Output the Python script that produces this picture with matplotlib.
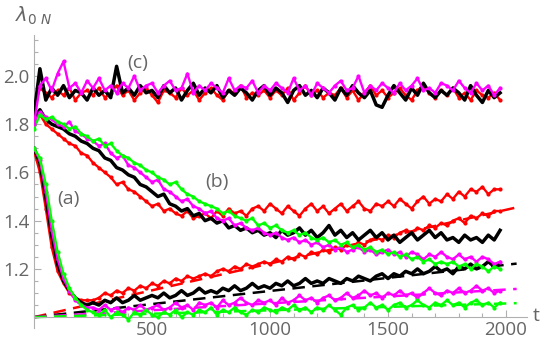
import numpy as np
import matplotlib
matplotlib.use("Agg")
import matplotlib.pyplot as plt
from matplotlib.ticker import MultipleLocator

plt.rcParams['font.family'] = ['Open Sans', 'DejaVu Sans']

# sampling times (every 25 steps)
t = np.arange(0, 2000, 25)

# group (c)
c_black = [1.84, 2.03, 1.90, 1.95, 1.92, 1.96, 1.91, 1.94, 1.93, 1.90,
           1.95, 1.92, 1.94, 1.91, 2.04, 1.93, 1.95, 1.92, 1.96, 1.93,
           1.94, 1.91, 1.96, 1.93, 1.95, 1.90, 1.94, 1.97, 1.92, 1.95,
           1.93, 1.96, 1.91, 1.94, 1.92, 1.95, 1.93, 1.90, 1.94, 1.96,
           1.92, 1.95, 1.93, 1.89, 1.94, 1.96, 1.92, 1.94, 1.91, 1.95,
           1.93, 1.90, 1.95, 1.92, 1.96, 1.93, 1.91, 1.94, 1.88, 1.87,
           1.92, 1.96, 1.93, 1.90, 1.95, 1.92, 1.97, 1.93, 1.91, 1.94,
           1.92, 1.95, 1.93, 1.90, 1.96, 1.92, 1.89, 1.94, 1.91, 1.93]
c_red = [1.86, 1.95, 1.93, 1.91, 1.94, 1.92, 1.95, 1.90, 1.93, 1.94,
         1.92, 1.95, 1.91, 1.93, 1.96, 1.92, 1.94, 1.90, 1.93, 1.95,
         1.92, 1.89, 1.94, 1.93, 1.91, 1.95, 1.92, 1.94, 1.90, 1.93,
         1.95, 1.92, 1.90, 1.94, 1.93, 1.96, 1.91, 1.93, 1.92, 1.94,
         1.91, 1.94, 1.92, 1.95, 1.90, 1.93, 1.96, 1.92, 1.94, 1.91,
         1.93, 1.92, 1.95, 1.91, 1.94, 1.90, 1.93, 1.96, 1.92, 1.94,
         1.91, 1.93, 1.95, 1.92, 1.90, 1.94, 1.96, 1.93, 1.91, 1.94,
         1.92, 1.95, 1.91, 1.93, 1.90, 1.94, 1.92, 1.91, 1.93, 1.90]
c_magenta = [1.80, 1.96, 1.99, 1.94, 2.01, 2.06, 1.95, 1.97, 1.93, 1.98,
             1.95, 1.99, 1.94, 1.96, 1.93, 1.97, 1.95, 2.00, 1.94, 1.96,
             1.97, 1.93, 1.96, 1.98, 1.94, 1.95, 2.01, 1.93, 1.96, 1.94,
             1.97, 1.95, 1.93, 1.99, 1.94, 1.96, 1.95, 1.98, 1.93, 1.96,
             1.94, 1.97, 1.95, 1.93, 1.99, 1.94, 1.96, 1.92, 1.97, 1.95,
             1.93, 1.96, 1.98, 1.94, 1.95, 2.00, 1.93, 1.96, 1.94, 1.97,
             1.95, 1.93, 1.97, 1.94, 1.96, 1.99, 1.94, 1.95, 1.93, 1.97,
             1.96, 1.94, 1.98, 1.95, 1.93, 1.97, 1.94, 1.96, 1.92, 1.95]

# group (b)
b_black = [1.83, 1.86, 1.82, 1.80, 1.79, 1.78, 1.76, 1.75, 1.73, 1.72,
           1.70, 1.69, 1.66, 1.65, 1.62, 1.61, 1.59, 1.58, 1.55, 1.54,
           1.52, 1.50, 1.51, 1.47, 1.46, 1.44, 1.45, 1.42, 1.43, 1.40,
           1.41, 1.39, 1.40, 1.37, 1.38, 1.36, 1.37, 1.35, 1.36, 1.34,
           1.35, 1.33, 1.36, 1.34, 1.35, 1.37, 1.34, 1.36, 1.33, 1.35,
           1.38, 1.34, 1.36, 1.33, 1.35, 1.32, 1.34, 1.36, 1.33, 1.35,
           1.32, 1.34, 1.31, 1.33, 1.35, 1.32, 1.34, 1.36, 1.33, 1.35,
           1.32, 1.33, 1.31, 1.34, 1.32, 1.33, 1.31, 1.34, 1.32, 1.36]
b_red = [1.82, 1.84, 1.80, 1.78, 1.76, 1.74, 1.72, 1.71, 1.68, 1.67,
         1.64, 1.62, 1.60, 1.58, 1.55, 1.56, 1.53, 1.52, 1.50, 1.48,
         1.46, 1.47, 1.44, 1.45, 1.43, 1.42, 1.44, 1.41, 1.42, 1.43,
         1.41, 1.44, 1.42, 1.45, 1.43, 1.44, 1.42, 1.45, 1.46, 1.44,
         1.47, 1.45, 1.43, 1.46, 1.44, 1.42, 1.45, 1.47, 1.44, 1.46,
         1.43, 1.45, 1.47, 1.44, 1.46, 1.48, 1.45, 1.44, 1.47, 1.46,
         1.48, 1.46, 1.49, 1.47, 1.45, 1.48, 1.50, 1.47, 1.49, 1.48,
         1.51, 1.49, 1.52, 1.50, 1.53, 1.52, 1.54, 1.51, 1.53, 1.53]
b_magenta = [1.80, 1.85, 1.83, 1.82, 1.80, 1.79, 1.81, 1.77, 1.76, 1.74,
             1.73, 1.71, 1.72, 1.68, 1.66, 1.67, 1.63, 1.62, 1.60, 1.58,
             1.56, 1.57, 1.53, 1.52, 1.50, 1.48, 1.49, 1.46, 1.45, 1.43,
             1.44, 1.41, 1.40, 1.41, 1.38, 1.39, 1.37, 1.36, 1.37, 1.35,
             1.34, 1.35, 1.33, 1.32, 1.33, 1.31, 1.32, 1.30, 1.31, 1.29,
             1.30, 1.28, 1.29, 1.27, 1.28, 1.29, 1.27, 1.28, 1.26, 1.27,
             1.28, 1.26, 1.27, 1.25, 1.27, 1.26, 1.24, 1.26, 1.25, 1.27,
             1.25, 1.24, 1.26, 1.24, 1.25, 1.23, 1.25, 1.24, 1.22, 1.23]
b_green = [1.78, 1.84, 1.82, 1.83, 1.81, 1.80, 1.78, 1.79, 1.76, 1.75,
           1.73, 1.74, 1.71, 1.72, 1.69, 1.67, 1.66, 1.64, 1.63, 1.61,
           1.60, 1.58, 1.57, 1.55, 1.56, 1.53, 1.51, 1.50, 1.48, 1.47,
           1.46, 1.45, 1.43, 1.44, 1.42, 1.41, 1.40, 1.41, 1.38, 1.39,
           1.37, 1.38, 1.36, 1.35, 1.36, 1.34, 1.35, 1.33, 1.32, 1.33,
           1.31, 1.32, 1.30, 1.31, 1.29, 1.30, 1.28, 1.29, 1.27, 1.28,
           1.26, 1.27, 1.25, 1.26, 1.24, 1.25, 1.23, 1.24, 1.22, 1.23,
           1.22, 1.23, 1.21, 1.22, 1.20, 1.22, 1.21, 1.19, 1.21, 1.20]

# group (a)
a_red = [1.69, 1.60, 1.45, 1.29, 1.19, 1.14, 1.10, 1.08, 1.07, 1.07,
         1.07, 1.08, 1.10, 1.09, 1.11, 1.10, 1.12, 1.11, 1.13, 1.12,
         1.14, 1.13, 1.15, 1.14, 1.16, 1.15, 1.17, 1.16, 1.17, 1.18,
         1.17, 1.19, 1.20, 1.19, 1.21, 1.20, 1.22, 1.21, 1.22, 1.23,
         1.22, 1.24, 1.23, 1.25, 1.24, 1.26, 1.25, 1.27, 1.26, 1.28,
         1.27, 1.29, 1.28, 1.30, 1.29, 1.31, 1.30, 1.32, 1.33, 1.32,
         1.34, 1.33, 1.35, 1.36, 1.35, 1.37, 1.36, 1.38, 1.37, 1.39,
         1.38, 1.40, 1.41, 1.39, 1.42, 1.41, 1.43, 1.42, 1.44, 1.44]
a_black = [1.70, 1.64, 1.50, 1.34, 1.22, 1.15, 1.11, 1.08, 1.06, 1.05,
           1.06, 1.05, 1.07, 1.06, 1.08, 1.06, 1.07, 1.09, 1.07, 1.08,
           1.09, 1.08, 1.10, 1.08, 1.09, 1.11, 1.09, 1.10, 1.12, 1.10,
           1.11, 1.10, 1.12, 1.11, 1.13, 1.11, 1.12, 1.14, 1.12, 1.13,
           1.12, 1.14, 1.13, 1.15, 1.13, 1.14, 1.16, 1.14, 1.15, 1.14,
           1.16, 1.15, 1.14, 1.16, 1.15, 1.17, 1.16, 1.15, 1.17, 1.18,
           1.16, 1.18, 1.17, 1.19, 1.18, 1.20, 1.18, 1.19, 1.21, 1.19,
           1.20, 1.18, 1.21, 1.20, 1.22, 1.20, 1.21, 1.23, 1.21, 1.22]
a_magenta = [1.70, 1.65, 1.52, 1.36, 1.24, 1.16, 1.11, 1.07, 1.05, 1.04,
             1.04, 1.03, 1.05, 1.03, 1.04, 1.02, 1.04, 1.03, 1.05, 1.03,
             1.04, 1.05, 1.03, 1.04, 1.06, 1.04, 1.05, 1.03, 1.06, 1.05,
             1.06, 1.04, 1.07, 1.05, 1.06, 1.08, 1.06, 1.05, 1.07, 1.06,
             1.07, 1.05, 1.08, 1.06, 1.07, 1.09, 1.07, 1.08, 1.06, 1.08,
             1.09, 1.07, 1.08, 1.10, 1.08, 1.09, 1.11, 1.09, 1.10, 1.08,
             1.10, 1.09, 1.11, 1.09, 1.10, 1.08, 1.10, 1.12, 1.10, 1.09,
             1.11, 1.10, 1.12, 1.10, 1.11, 1.13, 1.11, 1.12, 1.10, 1.11]
a_green = [1.70, 1.66, 1.55, 1.40, 1.27, 1.18, 1.12, 1.08, 1.05, 1.03,
           1.02, 1.01, 1.03, 1.00, 1.02, 1.01, 0.99, 1.02, 1.01, 1.03,
           1.01, 1.00, 1.02, 1.01, 1.03, 1.00, 1.02, 1.01, 1.03, 1.02,
           1.04, 1.01, 1.03, 1.02, 1.04, 1.02, 1.01, 1.03, 1.02, 1.04,
           1.03, 1.02, 1.04, 1.03, 1.05, 1.03, 1.04, 1.02, 1.04, 1.03,
           1.05, 1.03, 1.01, 1.04, 1.05, 1.03, 1.04, 1.06, 1.04, 1.05,
           1.03, 1.05, 1.06, 1.04, 1.05, 1.07, 1.05, 1.04, 1.06, 1.05,
           1.07, 1.05, 1.06, 1.04, 1.06, 1.07, 1.05, 1.06, 1.04, 1.06]

# linear fits (dashed), from t=0 to t_fit_end
t_fit = [0, 2045]
fit_red = [1.0, 1.455]
fit_black = [1.0, 1.222]
fit_magenta = [1.0, 1.117]
fit_green = [1.0, 1.058]

RED, MAG, GRN = '#ff0000', '#ff00ff', '#00ff00'

fig = plt.figure(figsize=(5.45, 3.46), dpi=100)
ax = fig.add_axes([0.0624, 0.052, 0.905, 0.847])

for yy, col in [(fit_red, RED), (fit_black, 'black'), (fit_magenta, MAG), (fit_green, GRN)]:
    ax.plot(t_fit, yy, color=col, lw=1.8, dashes=(5, 3), zorder=2)

def dotted(y, col, z):
    ax.plot(t, y, color=col, lw=1.7, marker='o', ms=3, mew=0, zorder=z)

def solid(y, z):
    ax.plot(t, y, color='black', lw=2.5, zorder=z)

# (a)
dotted(a_red, RED, 3)
solid(a_black, 4)
dotted(a_magenta, MAG, 5)
dotted(a_green, GRN, 5)
# (b)
dotted(b_red, RED, 3)
solid(b_black, 4)
dotted(b_magenta, MAG, 5)
dotted(b_green, GRN, 5)
# (c)
dotted(c_red, RED, 3)
solid(c_black, 4)
dotted(c_magenta, MAG, 5)

ax.set_xlim(0, 2090)
ax.set_ylim(0.955, 2.17)

for s in ['top', 'right']:
    ax.spines[s].set_visible(False)
ax.spines['bottom'].set_position(('data', 1.0))
ax.spines['left'].set_position(('data', 0))
for s in ['bottom', 'left']:
    ax.spines[s].set_color('#b0b0b0')
    ax.spines[s].set_linewidth(0.8)

ax.set_xticks([500, 1000, 1500, 2000])
ax.set_yticks([1.2, 1.4, 1.6, 1.8, 2.0])
ax.set_yticklabels(['1.2', '1.4', '1.6', '1.8', '2.0'])
ax.xaxis.set_minor_locator(MultipleLocator(100))
ax.yaxis.set_minor_locator(MultipleLocator(0.05))
ax.tick_params(which='both', direction='in', color='#b0b0b0', labelcolor='#666666',
               labelsize=13.5, width=0.8)
ax.tick_params(which='major', length=5)
ax.tick_params(which='minor', length=3)
ax.tick_params(axis='x', pad=3)
ax.tick_params(axis='y', pad=3)

txt = dict(color='#666666', fontsize=14, ha='center', va='center')
ax.text(440, 2.055, '(c)', **txt)
ax.text(774, 1.56, '(b)', **txt)
ax.text(144, 1.49, '(a)', **txt)

fig.text(0.99, 1 - 316 / 346, 't', color='#666666', fontsize=14, ha='right', va='center')
fig.text(0.062, 1 - 16 / 346, r'$\lambda_{0\ N}$', color='#666666', fontsize=14,
         ha='center', va='center')

fig.savefig('out.png', dpi=100)
